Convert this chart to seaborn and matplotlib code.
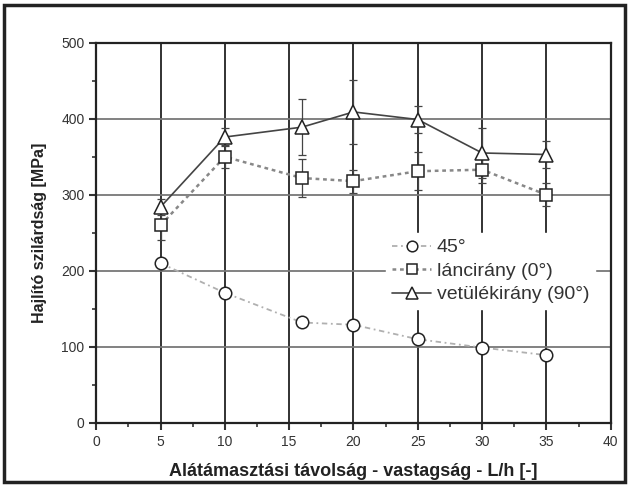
import pandas as pd
import seaborn as sns
import matplotlib.pyplot as plt
import numpy as np
from matplotlib.patches import Rectangle
from matplotlib.ticker import MultipleLocator

# L/h values
lh = [5, 10, 16, 20, 25, 30, 35]

deg45 = [210, 171, 132, 129, 110, 99, 89]
deg45_err = [5, 6, 5, 6, 5, 5, 5]

lanc = [260, 350, 322, 318, 331, 333, 300]
lanc_err = [20, 15, 25, 15, 25, 17, 15]

vetulek = [284, 376, 389, 409, 399, 355, 353]
vetulek_err = [10, 12, 37, 42, 18, 33, 18]

labels = ["45°", "láncirány (0°)", "vetülékirány (90°)"]

sns.set_theme(style="white")
plt.rcParams['font.family'] = ['Liberation Sans', 'DejaVu Sans']

fig = plt.figure(figsize=(6.29, 4.86), dpi=100)
ax = fig.add_axes([0.153, 0.130, 0.818, 0.782])

# grid first so it sits behind the data
for xv in [5, 10, 15, 20, 25, 30, 35]:
    ax.axvline(xv, color='#222222', lw=1.3, zorder=0)
for yv in [100, 200, 300, 400]:
    ax.axhline(yv, color='#777777', lw=1.3, zorder=0)

styles = [
    dict(color='#b0b0b0', ls=(0, (3, 2, 1, 2)), marker='o', lw=1.3, ms=9),
    dict(color='#888888', ls=(0, (1.5, 1.5)), marker='s', lw=1.8, ms=8.5),
    dict(color='#444444', ls='-', marker='^', lw=1.2, ms=10.5),
]
series = [(deg45, deg45_err), (lanc, lanc_err), (vetulek, vetulek_err)]

for (vals, errs), st, lab in zip(series, styles, labels):
    df = pd.DataFrame({"L/h": lh, "val": vals})
    ax.errorbar(lh, vals, yerr=errs, fmt='none', ecolor='#444444',
                elinewidth=0.9, capsize=3, capthick=0.9, zorder=2)
    sns.lineplot(data=df, x="L/h", y="val", ax=ax, color=st['color'],
                 linestyle=st['ls'], linewidth=st['lw'], marker=st['marker'],
                 markersize=st['ms'], markerfacecolor='white',
                 markeredgecolor='#222222', markeredgewidth=1.1,
                 label=lab, zorder=3)

ax.set_xlim(0, 40)
ax.set_ylim(0, 500)
ax.xaxis.set_major_locator(MultipleLocator(5))
ax.xaxis.set_minor_locator(MultipleLocator(2.5))
ax.yaxis.set_major_locator(MultipleLocator(100))
ax.yaxis.set_minor_locator(MultipleLocator(50))
ax.tick_params(which='both', direction='out', bottom=True, left=True,
               labelsize=10, colors='#333333')
ax.tick_params(which='major', length=5, width=1.5)
ax.tick_params(which='minor', length=3, width=1.2)
for side in ['top', 'right']:
    ax.spines[side].set_visible(True)
for sp in ax.spines.values():
    sp.set_color('#222222')
    sp.set_linewidth(1.6)

ax.set_xlabel("Alátámasztási távolság - vastagság - L/h [-]", fontsize=13,
              fontweight='bold', color='#222222', labelpad=10)
ax.set_ylabel("Hajlító szilárdság [MPa]", fontsize=11.5, fontweight='bold',
              color='#222222', labelpad=10)

leg = ax.legend(loc='upper left', bbox_to_anchor=(0.545, 0.525), frameon=True,
                fontsize=14, handlelength=2.0, handletextpad=0.3,
                labelspacing=0.3, borderpad=0.3, markerscale=0.85)
leg.get_frame().set_edgecolor('white')
leg.get_frame().set_facecolor('white')
leg.get_frame().set_alpha(1.0)
for t in leg.get_texts():
    t.set_color('#333333')

fig.patches.append(Rectangle((0.006, 0.008), 0.988, 0.982, transform=fig.transFigure,
                             fill=False, edgecolor='#222222', lw=2.5))

fig.savefig("out.png", dpi=100)
